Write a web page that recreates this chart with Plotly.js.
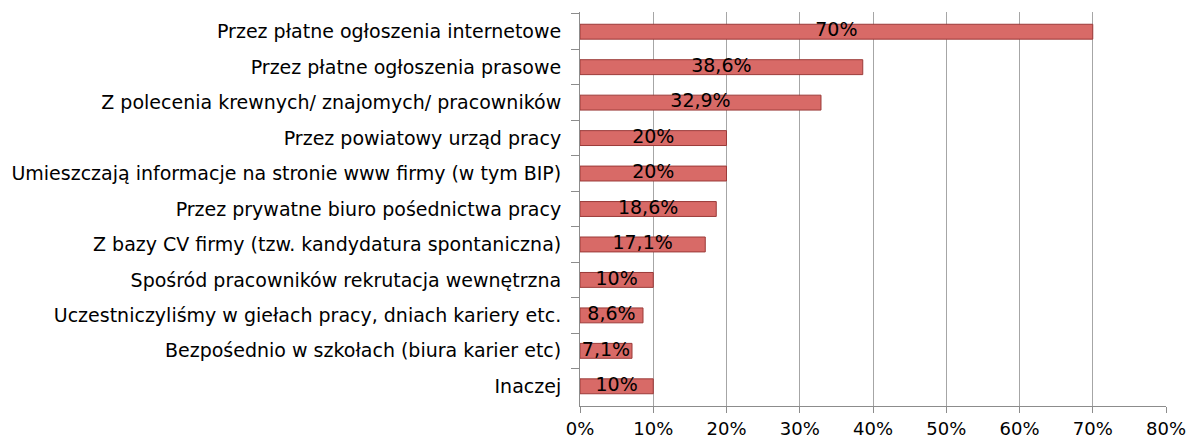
<!DOCTYPE html>
<html>
<head>
<meta charset="utf-8">
<script src="https://cdn.plot.ly/plotly-3.0.1.min.js"></script>
<style>body{margin:0;background:#fff}</style>
</head>
<body>
<div id="chart" style="width:1192px;height:442px"></div>
<script>
// categories, top to bottom
var categories = [
  "Przez płatne ogłoszenia internetowe",
  "Przez płatne ogłoszenia prasowe",
  "Z polecenia krewnych/ znajomych/ pracowników",
  "Przez powiatowy urząd pracy",
  "Umieszczają informacje na stronie www firmy (w tym BIP)",
  "Przez prywatne biuro pośednictwa pracy",
  "Z bazy CV firmy (tzw. kandydatura spontaniczna)",
  "Spośród pracowników rekrutacja wewnętrzna",
  "Uczestniczyliśmy w giełach pracy, dniach kariery etc.",
  "Bezpośednio w szkołach (biura karier etc)",
  "Inaczej"
];
var values = [70, 38.6, 32.9, 20, 20, 18.6, 17.1, 10, 8.6, 7.1, 10];
var labels = ["70%", "38,6%", "32,9%", "20%", "20%", "18,6%", "17,1%", "10%", "8,6%", "7,1%", "10%"];
var tickVals = [0, 10, 20, 30, 40, 50, 60, 70, 80];
var tickText = ["0%", "10%", "20%", "30%", "40%", "50%", "60%", "70%", "80%"];

var font = "'DejaVu Sans', Verdana, sans-serif";

// bars
var traceBars = {
  type: "bar",
  orientation: "h",
  x: values,
  y: categories,
  width: 0.42,
  marker: {
    color: "#d86a67",
    line: {color: "#9b3a38", width: 1}
  },
  hoverinfo: "none"
};

// data labels in middle of bars
var traceLabels = {
  type: "scatter",
  mode: "text",
  x: values.map(v => v / 2),
  y: categories,
  text: labels,
  textposition: "middle center",
  textfont: {family: font, size: 19, color: "#000"},
  hoverinfo: "none"
};

var layout = {
  width: 1192,
  height: 442,
  margin: {l: 580, r: 26, t: 12, b: 36},
  showlegend: false,
  paper_bgcolor: "#fff",
  plot_bgcolor: "#fff",
  font: {family: font, size: 19, color: "#000"},
  xaxis: {
    range: [0, 80],
    tickvals: tickVals,
    ticktext: tickText,
    showgrid: true,
    gridcolor: "#a6a6a6",
    gridwidth: 1,
    showline: true,
    linecolor: "#8c8c8c",
    ticks: "outside",
    ticklen: 6,
    tickcolor: "#8c8c8c",
    ticklabelstandoff: 0,
    tickfont: {size: 18},
    zeroline: false,
    fixedrange: true
  },
  yaxis: {
    autorange: "reversed",
    showline: true,
    linecolor: "#8c8c8c",
    ticks: "outside",
    tickson: "boundaries",
    ticklen: 8,
    tickcolor: "#8c8c8c",
    ticklabelstandoff: 14,
    showgrid: false,
    fixedrange: true
  }
};

Plotly.newPlot("chart", [traceBars, traceLabels], layout, {staticPlot: true});
</script>
</body>
</html>
